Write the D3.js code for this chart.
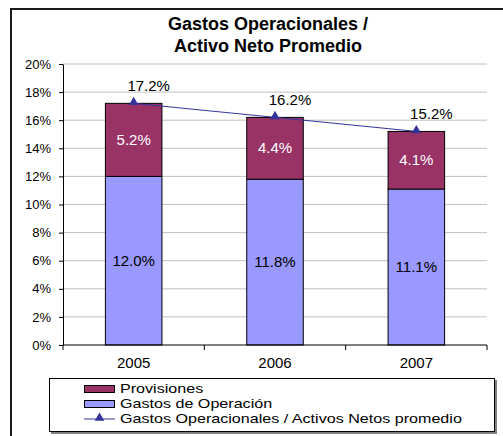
<!DOCTYPE html>
<html>
<head>
<meta charset="utf-8">
<script src="https://cdn.jsdelivr.net/npm/d3@7"></script>
<style>
    body { margin: 0; background: #fff; }
    svg { display: block; font-family: 'Liberation Sans', Arial, sans-serif; }
</style>
</head>
<body>
<div id="chart"></div>
<script>
// chart data
const years = ['2005', '2006', '2007'];
const gastosOperacion = [0.120, 0.118, 0.111];
const provisiones = [0.052, 0.044, 0.041];
const ratioTotal = [0.172, 0.162, 0.152];
const yTicks = [0, 0.02, 0.04, 0.06, 0.08, 0.10, 0.12, 0.14, 0.16, 0.18, 0.20];
const titleLines = ['Gastos Operacionales /', 'Activo Neto Promedio'];
const legendLabels = ['Provisiones', 'Gastos de Operación', 'Gastos Operacionales / Activos Netos promedio'];

const size = { width: 503, height: 436 };
const plot = { left: 63, right: 487, top: 64, bottom: 345 };
const colors = { prov: '#993366', oper: '#9999ff', line: '#333399' };

const svg = d3.select('#chart')
    .append('svg')
    .attr('width', size.width)
    .attr('height', size.height);

// outer chart frame (runs off the right and bottom edge)
svg.append('path')
    .attr('d', 'M11,' + (size.height + 2) + 'V9H' + (size.width + 2))
    .attr('fill', 'none')
    .attr('stroke', '#1a1a1a')
    .attr('stroke-width', 2);

// title
svg.append('text')
    .attr('x', 268)
    .attr('y', 30)
    .attr('text-anchor', 'middle')
    .style('font-size', '18px')
    .style('font-weight', 'bold')
    .selectAll('tspan')
    .data(titleLines)
    .join('tspan')
    .attr('x', 268)
    .attr('dy', (d, i) => i === 0 ? 0 : 22)
    .text(d => d);

// scales
const xScale = d3.scaleBand()
    .domain(years)
    .range([plot.left, plot.right])
    .paddingInner(0.6)
    .paddingOuter(0.3);
const yScale = d3.scaleLinear()
    .domain([0, 0.2])
    .range([plot.bottom, plot.top]);
const pct = d3.format('.1%');

// gridlines
svg.append('g')
    .selectAll('line')
    .data(yTicks.filter(d => d > 0))
    .join('line')
    .attr('x1', plot.left)
    .attr('x2', plot.right)
    .attr('y1', d => yScale(d))
    .attr('y2', d => yScale(d))
    .attr('stroke', '#c0c0c0')
    .attr('stroke-width', 1);

// y axis
const yAxis = svg.append('g')
    .attr('transform', 'translate(' + plot.left + ',0)')
    .call(d3.axisLeft(yScale).tickValues(yTicks).tickFormat(d3.format('.0%')).tickSize(4).tickSizeOuter(0).tickPadding(8));
yAxis.select('.domain').attr('stroke', '#000');
yAxis.selectAll('.tick line').attr('stroke', '#000');
yAxis.selectAll('text')
    .style('font-size', '13px')
    .style('font-family', "'Liberation Sans', Arial, sans-serif")
    .attr('fill', '#000');

// stacked bars
const stack = years.map((y, i) => ({ year: y, oper: gastosOperacion[i], prov: provisiones[i] }));
const bars = svg.append('g');
bars.selectAll('rect.oper')
    .data(stack)
    .join('rect')
    .attr('class', 'oper')
    .attr('x', d => xScale(d.year))
    .attr('width', xScale.bandwidth())
    .attr('y', d => yScale(d.oper))
    .attr('height', d => yScale(0) - yScale(d.oper))
    .attr('fill', colors.oper)
    .attr('stroke', '#000')
    .attr('stroke-width', 1);
bars.selectAll('rect.prov')
    .data(stack)
    .join('rect')
    .attr('class', 'prov')
    .attr('x', d => xScale(d.year))
    .attr('width', xScale.bandwidth())
    .attr('y', d => yScale(d.oper + d.prov))
    .attr('height', d => yScale(d.oper) - yScale(d.oper + d.prov))
    .attr('fill', colors.prov)
    .attr('stroke', '#000')
    .attr('stroke-width', 1);

// x axis with ticks on the category boundaries
const xAxis = svg.append('g');
xAxis.append('line')
    .attr('x1', plot.left)
    .attr('x2', plot.right)
    .attr('y1', plot.bottom)
    .attr('y2', plot.bottom)
    .attr('stroke', '#000');
xAxis.selectAll('line.tick')
    .data(d3.range(years.length + 1))
    .join('line')
    .attr('class', 'tick')
    .attr('x1', i => plot.left + i * xScale.step())
    .attr('x2', i => plot.left + i * xScale.step())
    .attr('y1', plot.bottom)
    .attr('y2', plot.bottom + 5)
    .attr('stroke', '#000');
xAxis.selectAll('text')
    .data(years)
    .join('text')
    .attr('x', d => xScale(d) + xScale.bandwidth() / 2)
    .attr('y', plot.bottom + 23)
    .attr('text-anchor', 'middle')
    .style('font-size', '15px')
    .text(d => d);

// segment labels
const labels = svg.append('g').attr('text-anchor', 'middle').style('font-size', '15px');
labels.selectAll('text.oper')
    .data(stack)
    .join('text')
    .attr('class', 'oper')
    .attr('x', d => xScale(d.year) + xScale.bandwidth() / 2)
    .attr('y', d => (yScale(0) + yScale(d.oper)) / 2 + 5)
    .attr('fill', '#000')
    .text(d => pct(d.oper));
labels.selectAll('text.prov')
    .data(stack)
    .join('text')
    .attr('class', 'prov')
    .attr('x', d => xScale(d.year) + xScale.bandwidth() / 2)
    .attr('y', d => (yScale(d.oper) + yScale(d.oper + d.prov)) / 2 + 5)
    .attr('fill', '#fff')
    .text(d => pct(d.prov));

// ratio line with triangle markers
const cx = (d, i) => xScale(years[i]) + xScale.bandwidth() / 2;
svg.append('path')
    .datum(ratioTotal)
    .attr('d', d3.line().x(cx).y(d => yScale(d)))
    .attr('fill', 'none')
    .attr('stroke', colors.line)
    .attr('stroke-width', 1);
const tri = d3.symbol().type(d3.symbolTriangle).size(40);
svg.append('g')
    .selectAll('path')
    .data(ratioTotal)
    .join('path')
    .attr('d', tri)
    .attr('transform', (d, i) => 'translate(' + cx(d, i) + ',' + (yScale(d) - 1) + ')')
    .attr('fill', colors.line);
svg.append('g')
    .selectAll('text')
    .data(ratioTotal)
    .join('text')
    .attr('x', (d, i) => cx(d, i) + 15)
    .attr('y', d => yScale(d) - 12)
    .attr('text-anchor', 'middle')
    .style('font-size', '15px')
    .text(d => pct(d));

// legend (text is drawn a bit wide, like the original)
const legend = svg.append('g');
legend.append('rect')
    .attr('x', 51).attr('y', 380).attr('width', 446).attr('height', 54)
    .attr('fill', '#808080');
legend.append('rect')
    .attr('x', 49.5).attr('y', 378.5).attr('width', 445).attr('height', 53)
    .attr('fill', '#fff')
    .attr('stroke', '#000');
const legendFill = [colors.prov, colors.oper];
legendLabels.forEach((label, i) => {
    const rowY = 393 + i * 15;
    if (i < 2) {
        legend.append('rect')
            .attr('x', 84.5).attr('y', rowY - 7.5).attr('width', 30).attr('height', 7)
            .attr('fill', legendFill[i])
            .attr('stroke', '#000');
    } else {
        legend.append('line')
            .attr('x1', 84).attr('x2', 115).attr('y1', rowY - 4).attr('y2', rowY - 4)
            .attr('stroke', colors.line);
        legend.append('path')
            .attr('d', tri)
            .attr('transform', 'translate(99.5,' + (rowY - 5) + ')')
            .attr('fill', colors.line);
    }
    legend.append('text')
        .attr('transform', 'translate(120,' + rowY + ') scale(1.24,1)')
        .style('font-size', '13px')
        .text(label);
});
</script>
</body>
</html>
